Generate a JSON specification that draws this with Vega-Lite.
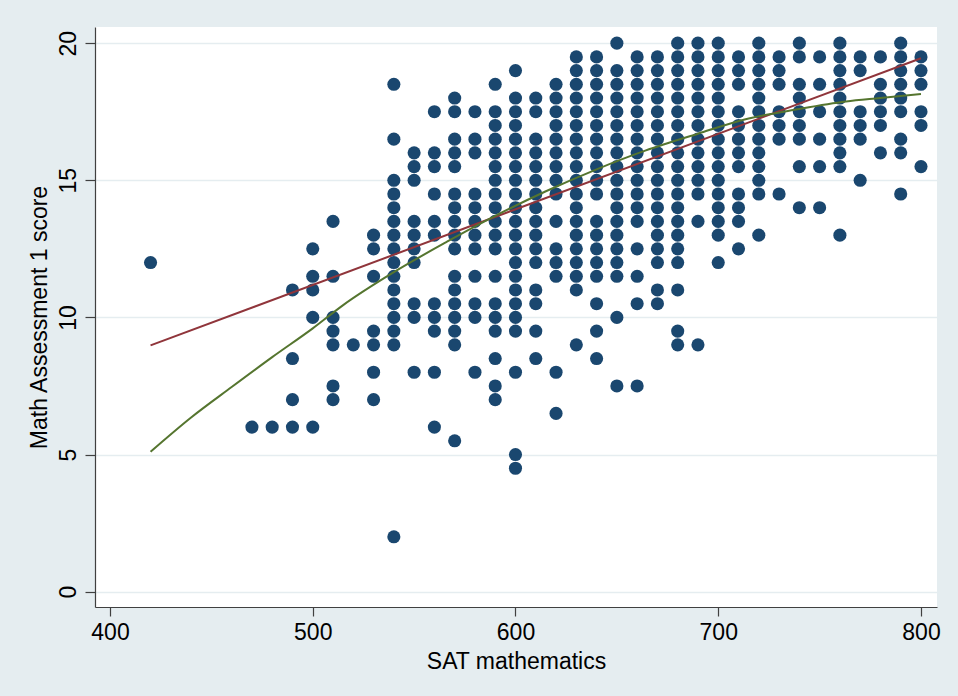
{
  "$schema": "https://vega.github.io/schema/vega-lite/v6.json",
  "width": 842,
  "height": 580,
  "autosize": {"type": "none"},
  "padding": {"left": 95, "top": 27, "right": 21, "bottom": 89},
  "background": "#E5EDF0",
  "config": {
    "view": {"fill": "white", "stroke": null},
    "font": "Liberation Sans",
    "axis": {
      "domainColor": "#404040",
      "domainWidth": 1.2,
      "tickColor": "#404040",
      "tickWidth": 1.2,
      "tickSize": 9,
      "labelFontSize": 23,
      "labelColor": "#000000",
      "titleFontSize": 23,
      "titleFontWeight": "normal",
      "titleColor": "#000000",
      "labelFlush": false,
      "labelOverlap": false
    }
  },
  "datasets": {
    "pts": [
      {"sat":420,"score":12},
      {"sat":470,"score":6},
      {"sat":480,"score":6},
      {"sat":490,"score":11},{"sat":490,"score":8.5},{"sat":490,"score":7},{"sat":490,"score":6},
      {"sat":500,"score":12.5},{"sat":500,"score":11.5},{"sat":500,"score":11},{"sat":500,"score":10},{"sat":500,"score":6},
      {"sat":510,"score":13.5},{"sat":510,"score":11.5},{"sat":510,"score":10},{"sat":510,"score":9.5},{"sat":510,"score":9},{"sat":510,"score":7.5},{"sat":510,"score":7},
      {"sat":520,"score":9},
      {"sat":530,"score":13},{"sat":530,"score":12.5},{"sat":530,"score":11.5},{"sat":530,"score":9.5},{"sat":530,"score":9},{"sat":530,"score":8},{"sat":530,"score":7},
      {"sat":540,"score":18.5},{"sat":540,"score":16.5},{"sat":540,"score":15},{"sat":540,"score":14.5},{"sat":540,"score":14},{"sat":540,"score":13.5},{"sat":540,"score":13},{"sat":540,"score":12.5},{"sat":540,"score":12},{"sat":540,"score":11.5},{"sat":540,"score":11},{"sat":540,"score":10.5},{"sat":540,"score":10},{"sat":540,"score":9.5},{"sat":540,"score":9},{"sat":540,"score":2},
      {"sat":550,"score":16},{"sat":550,"score":15.5},{"sat":550,"score":15},{"sat":550,"score":13.5},{"sat":550,"score":13},{"sat":550,"score":12.5},{"sat":550,"score":12},{"sat":550,"score":10.5},{"sat":550,"score":10},{"sat":550,"score":8},
      {"sat":560,"score":17.5},{"sat":560,"score":16},{"sat":560,"score":15.5},{"sat":560,"score":14.5},{"sat":560,"score":13.5},{"sat":560,"score":13},{"sat":560,"score":10.5},{"sat":560,"score":10},{"sat":560,"score":9.5},{"sat":560,"score":8},{"sat":560,"score":6},
      {"sat":570,"score":18},{"sat":570,"score":17.5},{"sat":570,"score":16.5},{"sat":570,"score":16},{"sat":570,"score":15.5},{"sat":570,"score":14.5},{"sat":570,"score":14},{"sat":570,"score":13.5},{"sat":570,"score":13},{"sat":570,"score":12.5},{"sat":570,"score":11.5},{"sat":570,"score":11},{"sat":570,"score":10.5},{"sat":570,"score":10},{"sat":570,"score":9.5},{"sat":570,"score":9},{"sat":570,"score":5.5},
      {"sat":580,"score":17.5},{"sat":580,"score":16.5},{"sat":580,"score":16},{"sat":580,"score":14.5},{"sat":580,"score":14},{"sat":580,"score":13.5},{"sat":580,"score":13},{"sat":580,"score":12.5},{"sat":580,"score":11.5},{"sat":580,"score":10.5},{"sat":580,"score":10},{"sat":580,"score":8},
      {"sat":590,"score":18.5},{"sat":590,"score":17.5},{"sat":590,"score":17},{"sat":590,"score":16.5},{"sat":590,"score":16},{"sat":590,"score":15.5},{"sat":590,"score":15},{"sat":590,"score":14.5},{"sat":590,"score":14},{"sat":590,"score":13.5},{"sat":590,"score":13},{"sat":590,"score":12.5},{"sat":590,"score":11.5},{"sat":590,"score":10.5},{"sat":590,"score":10},{"sat":590,"score":9.5},{"sat":590,"score":8.5},{"sat":590,"score":7.5},{"sat":590,"score":7},
      {"sat":600,"score":19},{"sat":600,"score":18},{"sat":600,"score":17.5},{"sat":600,"score":17},{"sat":600,"score":16.5},{"sat":600,"score":16},{"sat":600,"score":15.5},{"sat":600,"score":15},{"sat":600,"score":14.5},{"sat":600,"score":14},{"sat":600,"score":13.5},{"sat":600,"score":13},{"sat":600,"score":12.5},{"sat":600,"score":12},{"sat":600,"score":11.5},{"sat":600,"score":11},{"sat":600,"score":10.5},{"sat":600,"score":10},{"sat":600,"score":9.5},{"sat":600,"score":8},{"sat":600,"score":5},{"sat":600,"score":4.5},
      {"sat":610,"score":18},{"sat":610,"score":17.5},{"sat":610,"score":16.5},{"sat":610,"score":16},{"sat":610,"score":15.5},{"sat":610,"score":15},{"sat":610,"score":14.5},{"sat":610,"score":14},{"sat":610,"score":13.5},{"sat":610,"score":13},{"sat":610,"score":12.5},{"sat":610,"score":12},{"sat":610,"score":11},{"sat":610,"score":10.5},{"sat":610,"score":9.5},{"sat":610,"score":8.5},
      {"sat":620,"score":18.5},{"sat":620,"score":18},{"sat":620,"score":17.5},{"sat":620,"score":17},{"sat":620,"score":16.5},{"sat":620,"score":16},{"sat":620,"score":15.5},{"sat":620,"score":15},{"sat":620,"score":14.5},{"sat":620,"score":13.5},{"sat":620,"score":12.5},{"sat":620,"score":12},{"sat":620,"score":11.5},{"sat":620,"score":8},{"sat":620,"score":6.5},
      {"sat":630,"score":19.5},{"sat":630,"score":19},{"sat":630,"score":18.5},{"sat":630,"score":18},{"sat":630,"score":17.5},{"sat":630,"score":17},{"sat":630,"score":16.5},{"sat":630,"score":16},{"sat":630,"score":15.5},{"sat":630,"score":15},{"sat":630,"score":14.5},{"sat":630,"score":14},{"sat":630,"score":13.5},{"sat":630,"score":13},{"sat":630,"score":12.5},{"sat":630,"score":12},{"sat":630,"score":11.5},{"sat":630,"score":11},{"sat":630,"score":9},
      {"sat":640,"score":19.5},{"sat":640,"score":19},{"sat":640,"score":18.5},{"sat":640,"score":18},{"sat":640,"score":17.5},{"sat":640,"score":17},{"sat":640,"score":16.5},{"sat":640,"score":16},{"sat":640,"score":15.5},{"sat":640,"score":15},{"sat":640,"score":14.5},{"sat":640,"score":13.5},{"sat":640,"score":13},{"sat":640,"score":12.5},{"sat":640,"score":12},{"sat":640,"score":11.5},{"sat":640,"score":10.5},{"sat":640,"score":9.5},{"sat":640,"score":8.5},
      {"sat":650,"score":20},{"sat":650,"score":19},{"sat":650,"score":18.5},{"sat":650,"score":18},{"sat":650,"score":17.5},{"sat":650,"score":17},{"sat":650,"score":16.5},{"sat":650,"score":16},{"sat":650,"score":15.5},{"sat":650,"score":15},{"sat":650,"score":14.5},{"sat":650,"score":14},{"sat":650,"score":13.5},{"sat":650,"score":13},{"sat":650,"score":12.5},{"sat":650,"score":12},{"sat":650,"score":11.5},{"sat":650,"score":10},{"sat":650,"score":7.5},
      {"sat":660,"score":19.5},{"sat":660,"score":19},{"sat":660,"score":18.5},{"sat":660,"score":18},{"sat":660,"score":17.5},{"sat":660,"score":17},{"sat":660,"score":16.5},{"sat":660,"score":16},{"sat":660,"score":15.5},{"sat":660,"score":15},{"sat":660,"score":14.5},{"sat":660,"score":14},{"sat":660,"score":13.5},{"sat":660,"score":12.5},{"sat":660,"score":11.5},{"sat":660,"score":10.5},{"sat":660,"score":7.5},
      {"sat":670,"score":19.5},{"sat":670,"score":19},{"sat":670,"score":18.5},{"sat":670,"score":18},{"sat":670,"score":17.5},{"sat":670,"score":17},{"sat":670,"score":16.5},{"sat":670,"score":16},{"sat":670,"score":15.5},{"sat":670,"score":15},{"sat":670,"score":14.5},{"sat":670,"score":14},{"sat":670,"score":13.5},{"sat":670,"score":13},{"sat":670,"score":12.5},{"sat":670,"score":12},{"sat":670,"score":11},{"sat":670,"score":10.5},
      {"sat":680,"score":20},{"sat":680,"score":19.5},{"sat":680,"score":19},{"sat":680,"score":18.5},{"sat":680,"score":18},{"sat":680,"score":17.5},{"sat":680,"score":17},{"sat":680,"score":16.5},{"sat":680,"score":16},{"sat":680,"score":15.5},{"sat":680,"score":15},{"sat":680,"score":14.5},{"sat":680,"score":14},{"sat":680,"score":13.5},{"sat":680,"score":13},{"sat":680,"score":12.5},{"sat":680,"score":12},{"sat":680,"score":11},{"sat":680,"score":9.5},{"sat":680,"score":9},
      {"sat":690,"score":20},{"sat":690,"score":19.5},{"sat":690,"score":19},{"sat":690,"score":18.5},{"sat":690,"score":18},{"sat":690,"score":17.5},{"sat":690,"score":17},{"sat":690,"score":16.5},{"sat":690,"score":16},{"sat":690,"score":15.5},{"sat":690,"score":15},{"sat":690,"score":14.5},{"sat":690,"score":13.5},{"sat":690,"score":9},
      {"sat":700,"score":20},{"sat":700,"score":19.5},{"sat":700,"score":19},{"sat":700,"score":18.5},{"sat":700,"score":18},{"sat":700,"score":17.5},{"sat":700,"score":17},{"sat":700,"score":16.5},{"sat":700,"score":16},{"sat":700,"score":15.5},{"sat":700,"score":15},{"sat":700,"score":14.5},{"sat":700,"score":14},{"sat":700,"score":13.5},{"sat":700,"score":13},{"sat":700,"score":12},
      {"sat":710,"score":19.5},{"sat":710,"score":19},{"sat":710,"score":18.5},{"sat":710,"score":17.5},{"sat":710,"score":17},{"sat":710,"score":16.5},{"sat":710,"score":16},{"sat":710,"score":15.5},{"sat":710,"score":14.5},{"sat":710,"score":14},{"sat":710,"score":13.5},{"sat":710,"score":12.5},
      {"sat":720,"score":20},{"sat":720,"score":19.5},{"sat":720,"score":19},{"sat":720,"score":18.5},{"sat":720,"score":18},{"sat":720,"score":17.5},{"sat":720,"score":17},{"sat":720,"score":16.5},{"sat":720,"score":16},{"sat":720,"score":15.5},{"sat":720,"score":15},{"sat":720,"score":14.5},{"sat":720,"score":13},
      {"sat":730,"score":19.5},{"sat":730,"score":19},{"sat":730,"score":18.5},{"sat":730,"score":17.5},{"sat":730,"score":17},{"sat":730,"score":16.5},{"sat":730,"score":14.5},
      {"sat":740,"score":20},{"sat":740,"score":19.5},{"sat":740,"score":18.5},{"sat":740,"score":18},{"sat":740,"score":17.5},{"sat":740,"score":17},{"sat":740,"score":16.5},{"sat":740,"score":15.5},{"sat":740,"score":14},
      {"sat":750,"score":19.5},{"sat":750,"score":18.5},{"sat":750,"score":17.5},{"sat":750,"score":16.5},{"sat":750,"score":15.5},{"sat":750,"score":14},
      {"sat":760,"score":20},{"sat":760,"score":19.5},{"sat":760,"score":19},{"sat":760,"score":18.5},{"sat":760,"score":18},{"sat":760,"score":17.5},{"sat":760,"score":17},{"sat":760,"score":16.5},{"sat":760,"score":16},{"sat":760,"score":15.5},{"sat":760,"score":13},
      {"sat":770,"score":19.5},{"sat":770,"score":19},{"sat":770,"score":17.5},{"sat":770,"score":17},{"sat":770,"score":16.5},{"sat":770,"score":15},
      {"sat":780,"score":19.5},{"sat":780,"score":18.5},{"sat":780,"score":18},{"sat":780,"score":17.5},{"sat":780,"score":17},{"sat":780,"score":16},
      {"sat":790,"score":20},{"sat":790,"score":19.5},{"sat":790,"score":19},{"sat":790,"score":18.5},{"sat":790,"score":18},{"sat":790,"score":17.5},{"sat":790,"score":16.5},{"sat":790,"score":16},{"sat":790,"score":14.5},
      {"sat":800,"score":19.5},{"sat":800,"score":19},{"sat":800,"score":18.5},{"sat":800,"score":17.5},{"sat":800,"score":17},{"sat":800,"score":15.5}
    ],
    "lin": [
      {"sat":420,"fit":8.98},
      {"sat":800,"fit":19.45}
    ],
    "crv": [
      {"sat":420,"fit":5.1},
      {"sat":440,"fit":6.35},
      {"sat":460,"fit":7.46},
      {"sat":480,"fit":8.55},
      {"sat":500,"fit":9.6},
      {"sat":515,"fit":10.45},
      {"sat":540,"fit":11.65},
      {"sat":566,"fit":12.75},
      {"sat":590,"fit":13.7},
      {"sat":615,"fit":14.6},
      {"sat":640,"fit":15.4},
      {"sat":664,"fit":16.08},
      {"sat":690,"fit":16.7},
      {"sat":713,"fit":17.22},
      {"sat":740,"fit":17.6},
      {"sat":763,"fit":17.87},
      {"sat":780,"fit":18.0},
      {"sat":800,"fit":18.15}
    ]
  },
  "layer": [
    {
      "data": {"name": "pts"},
      "mark": {"type": "circle", "size": 172, "color": "#1A476F", "opacity": 1},
      "encoding": {
        "x": {
          "field": "sat", "type": "quantitative",
          "scale": {"domain": [392.6, 807.9], "nice": false, "zero": false},
          "axis": {"values": [400, 500, 600, 700, 800], "grid": false, "title": "SAT mathematics", "labelPadding": 5, "titlePadding": 6}
        },
        "y": {
          "field": "score", "type": "quantitative",
          "scale": {"domain": [-0.56, 20.59], "nice": false, "zero": false},
          "axis": {"values": [0, 5, 10, 15, 20], "grid": true, "gridColor": "#E5EDF0", "gridWidth": 1.5, "tickSize": 10, "labelAngle": -90, "labelAlign": "center", "labelBaseline": "alphabetic", "labelPadding": 10, "title": "Math Assessment 1 score", "titlePadding": 6}
        }
      }
    },
    {
      "data": {"name": "lin"},
      "mark": {"type": "line", "color": "#90353B", "strokeWidth": 2},
      "encoding": {
        "x": {"field": "sat", "type": "quantitative", "title": "SAT mathematics"},
        "y": {"field": "fit", "type": "quantitative", "title": "Math Assessment 1 score"}
      }
    },
    {
      "data": {"name": "crv"},
      "mark": {"type": "line", "color": "#55752F", "strokeWidth": 2, "interpolate": "monotone"},
      "encoding": {
        "x": {"field": "sat", "type": "quantitative", "title": "SAT mathematics"},
        "y": {"field": "fit", "type": "quantitative", "title": "Math Assessment 1 score"}
      }
    }
  ]
}
